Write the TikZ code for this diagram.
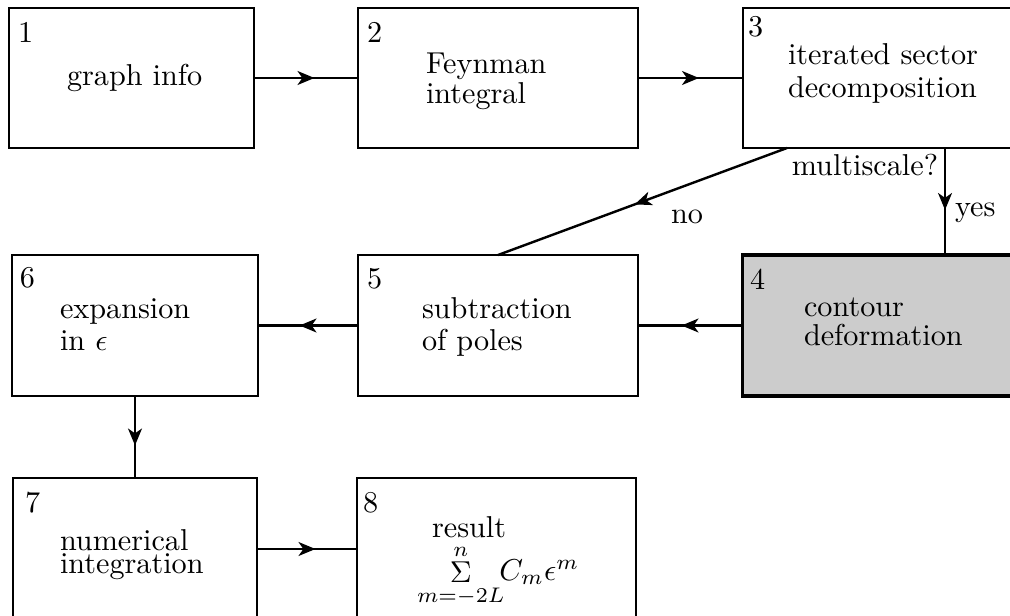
\documentclass[tikz,border=0pt]{standalone}
\usetikzlibrary{arrows.meta,decorations.markings}
\begin{document}
\begin{tikzpicture}[x=0.331pt,y=-0.331pt,
  box/.style 2 args={draw, line width=0.8pt, inner sep=0pt, outer sep=0pt,
     minimum width=#1*0.331pt, minimum height=#2*0.331pt},
  txt/.style={anchor=base west, inner sep=0pt, outer sep=0pt, font=\fontsize{10}{10}\selectfont},
  flow/.style={draw, line width=0.8pt, postaction={decorate},
     decoration={markings, mark=at position 0.5 with {\arrow[xshift=2.8pt]{Stealth[length=5.6pt,width=4.6pt,inset=1.6pt]}}}}]
\useasboundingbox (0,0) rectangle (1010,615);
\clip (0,0) rectangle (1010,615);
% boxes
\node[box={245}{140}] (b1) at (131.5,78) {};
\node[box={280}{140}] (b2) at (498,78) {};
\node[box={290}{140}] (b3) at (888,78) {};
\node[box={290}{141}, fill=black!20, line width=1.0pt] (b4) at (887,325.5) {};
\node[box={280}{141}] (b5) at (498,325.5) {};
\node[box={246}{141}] (b6) at (135,325.5) {};
\node[box={244}{142}] (b7) at (135,549) {};
\node[box={279}{142}] (b8) at (496.5,549) {};
% texts
\node[txt] (n1) at (18,43) {1};
\node[txt] (t1) at (67,85) {graph info};
\node[txt] (n2) at (367,43) {2};
\node[txt] (t2a) at (426,73) {Feynman};
\node[txt] (t2b) at (426,104) {integral};
\node[txt] (n3) at (748,37) {3};
\node[txt] (t3a) at (788,65) {iterated sector};
\node[txt] (t3b) at (788,97) {decomposition};
\node[txt] (n4) at (750,289) {4};
\node[txt] (t4a) at (804,316) {contour};
\node[txt] (t4b) at (804,345) {deformation};
\node[txt] (n5) at (367,288) {5};
\node[txt] (t5a) at (422,318) {subtraction};
\node[txt] (t5b) at (422,350) {of poles};
\node[txt] (n6) at (20,287) {6};
\node[txt] (t6a) at (60,318) {expansion};
\node[txt] (t6b) at (60,350) {in $\epsilon$};
\node[txt] (n7) at (25,512) {7};
\node[txt] (t7a) at (60,550) {numerical};
\node[txt] (t7b) at (60,573) {integration};
\node[txt] (n8) at (363,512) {8};
\node[txt] (t8a) at (432,537) {result};
\node[txt] (t8b) at (417,580) {$\mathop{\Sigma}\limits_{m=-2L}^{n}\!\!C_m\epsilon^m$};
% labels
\node[txt, anchor=base east] (lms) at (938,175) {multiscale?};
\node[txt] (lyes) at (955,216) {yes};
\node[txt] (lno) at (671,223) {no};
% connectors
\coordinate (c3no) at (787,148);
\coordinate (c3yes) at (945,148);
\draw[flow] (b1) -- (b2);
\draw[flow] (b2) -- (b3);
\draw[flow] (c3yes) -- (c3yes |- b4.north);
\draw[flow] (c3no) -- (b5.north);
\draw[flow] (b4) -- (b5);
\draw[flow] (b5) -- (b6);
\draw[flow] (b6) -- (b7);
\draw[flow] (b7) -- (b8);
\end{tikzpicture}
\end{document}
